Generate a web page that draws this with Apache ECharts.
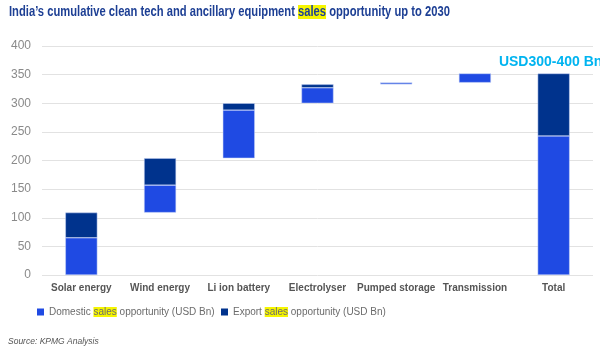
<!DOCTYPE html>
<html>
<head>
<meta charset="utf-8">
<script src="https://cdn.jsdelivr.net/npm/echarts@6/dist/echarts.min.js"></script>
<style>
  html, body { margin: 0; padding: 0; background: #fff; }
  #chart { width: 600px; height: 350px; }
</style>
</head>
<body>
<div id="chart"></div>
<script>
// categories and values (USD Bn)
const categories = ['Solar energy', 'Wind energy', 'Li ion battery', 'Electrolyser', 'Pumped storage', 'Transmission', 'Total']
const domestic = [65, 48, 84, 27, 3, 16]
const exportSales = [44, 47, 12, 6, 0, 0]
const yTicks = [0, 50, 100, 150, 200, 250, 300, 350, 400]
const totalLabel = 'USD300-400 Bn'

// waterfall: invisible base + domestic + export, last column is the total
const sum = arr => arr.reduce((a, b) => a + b, 0)
const base = []
let running = 0
domestic.forEach((d, i) => {
  base.push(running)
  running += d + exportSales[i]
})
base.push(0)
const domesticData = domestic.concat([sum(domestic)])
const exportData = exportSales.concat([sum(exportSales)])

const chart = echarts.init(document.getElementById('chart'))

// legend text with "sales" highlighted
const legendText = {
  color: '#6b6b6b',
  fontSize: 10,
  rich: { h: { color: '#6b6b6b', fontSize: 10, backgroundColor: '#f5f500' } }
}
const legendFmt = name => name + ' {h|sales} opportunity (USD Bn)'

chart.setOption({
  animation: false,
  textStyle: { fontFamily: 'Liberation Sans, Arial, sans-serif' },
  grid: { left: 42, right: 7, top: 46, bottom: 75 },
  legend: [
    {
      data: ['Domestic'],
      left: 32,
      top: 302,
      icon: 'rect',
      itemWidth: 7,
      itemHeight: 7,
      itemStyle: { borderWidth: 0 },
      formatter: legendFmt,
      textStyle: legendText
    },
    {
      data: ['Export'],
      left: 216,
      top: 302,
      icon: 'rect',
      itemWidth: 7,
      itemHeight: 7,
      itemStyle: { borderWidth: 0 },
      formatter: legendFmt,
      textStyle: legendText
    }
  ],
  graphic: [
    {
      // title, squeezed horizontally to look like the condensed original
      type: 'text',
      x: 9,
      y: 5,
      scaleX: 0.8,
      style: {
        text: 'India\u2019s cumulative clean tech and ancillary equipment {h|sales} opportunity up to 2030',
        fill: '#1d3f94',
        font: 'bold 14px Liberation Sans, Arial, sans-serif',
        rich: {
          h: { fill: '#1d3f94', font: 'bold 14px Liberation Sans, Arial, sans-serif', backgroundColor: '#f5f500' }
        }
      }
    },
    {
      type: 'text',
      left: 8,
      top: 337,
      style: { text: 'Source: KPMG Analysis', fill: '#555', font: 'italic 8.5px Liberation Sans, Arial, sans-serif' }
    }
  ],
  xAxis: {
    type: 'category',
    data: categories,
    axisLine: { show: false },
    axisTick: { show: false },
    axisLabel: { color: '#555', fontSize: 10, fontWeight: 'bold', margin: 8, interval: 0 }
  },
  yAxis: {
    type: 'value',
    min: yTicks[0],
    max: yTicks[yTicks.length - 1],
    interval: 50,
    axisLine: { show: false },
    axisTick: { show: false },
    axisLabel: { color: '#8a8a8a', fontSize: 12, margin: 11 },
    splitLine: { lineStyle: { color: '#e2e2e2', width: 1 } }
  },
  series: [
    {
      name: 'base',
      type: 'bar',
      stack: 'total',
      barWidth: 32,
      silent: true,
      itemStyle: { color: 'transparent' },
      data: base
    },
    {
      name: 'Domestic',
      type: 'bar',
      stack: 'total',
      barWidth: 32,
      itemStyle: { color: '#1f4ae3', borderColor: '#c9d4f7', borderWidth: 0.5 },
      data: domesticData
    },
    {
      name: 'Export',
      type: 'bar',
      stack: 'total',
      barWidth: 32,
      itemStyle: { color: '#00338d', borderColor: '#c9d4f7', borderWidth: 0.5 },
      label: {
        show: true,
        position: 'top',
        distance: 4,
        offset: [-3, 0],
        formatter: p => (p.dataIndex === categories.length - 1 ? totalLabel : ''),
        color: '#00b4f0',
        fontSize: 14,
        fontWeight: 'bold'
      },
      data: exportData
    }
  ]
})
</script>
</body>
</html>
